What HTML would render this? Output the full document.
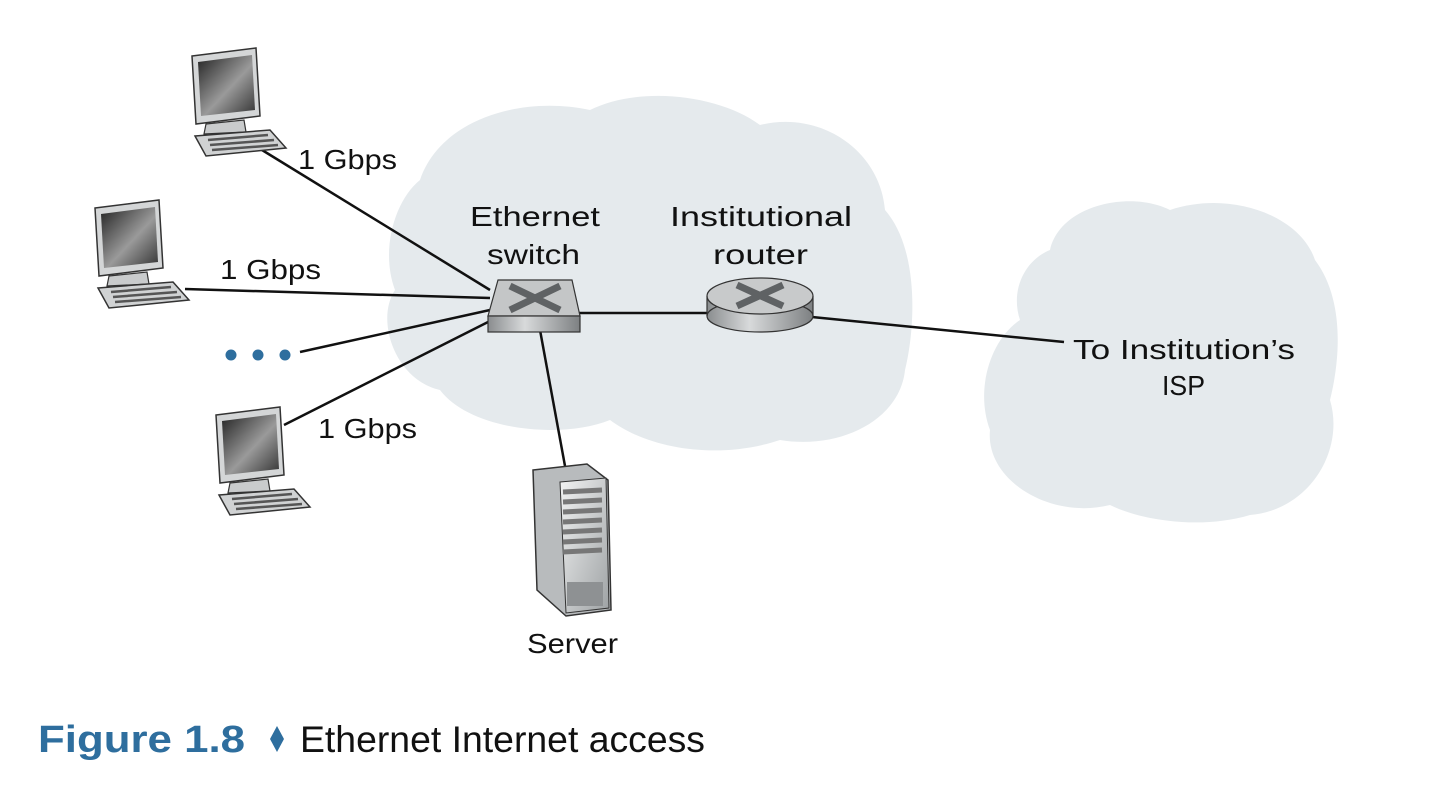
<!DOCTYPE html>
<html><head><meta charset="utf-8"><style>
html,body{margin:0;padding:0;background:#fff}
svg{display:block}
text{font-family:"Liberation Sans",sans-serif}
</style></head><body>
<svg width="1446" height="792" viewBox="0 0 1446 792" xmlns="http://www.w3.org/2000/svg">
<defs>
<linearGradient id="scr" x1="0" y1="0" x2="1" y2="1"><stop offset="0" stop-color="#222"/><stop offset=".55" stop-color="#9a9a9a"/><stop offset="1" stop-color="#333"/></linearGradient>
<linearGradient id="gr" x1="0" y1="0" x2="1" y2="0"><stop offset="0" stop-color="#8a8d8f"/><stop offset=".4" stop-color="#d8dadb"/><stop offset="1" stop-color="#7d8082"/></linearGradient>
<linearGradient id="sv" x1="0" y1="0" x2="1" y2="1"><stop offset="0" stop-color="#f2f3f3"/><stop offset="1" stop-color="#9ea2a4"/></linearGradient>
<g id="pc">
<path d="M2 8 L66 0 L70 68 L6 76 Z" fill="#d4d6d7" stroke="#333" stroke-width="1.5"/>
<path d="M8 14 L62 7 L65 62 L11 68 Z" fill="url(#scr)"/>
<path d="M16 76 L54 72 L56 84 L14 86 Z" fill="#c9cbcc" stroke="#333" stroke-width="1.2"/>
<path d="M5 88 L80 82 L96 100 L16 108 Z" fill="#d0d2d3" stroke="#333" stroke-width="1.5"/>
<path d="M18 92 L78 87 M20 97 L84 92 M22 102 L88 97" stroke="#555" stroke-width="2.5"/>
</g>
</defs>
<path d="M420 180 C440 120 520 95 590 110 C640 85 720 95 760 125 C820 110 880 150 885 210 C920 250 915 330 905 370 C900 420 840 450 780 440 C720 460 650 450 610 420 C560 440 470 430 440 390 C395 380 375 320 395 290 C380 250 395 200 420 180 Z" fill="#e5eaed"/>
<path d="M1050 250 C1060 205 1130 190 1170 210 C1230 190 1300 215 1315 260 C1345 300 1340 360 1330 400 C1345 450 1310 510 1250 515 C1200 530 1140 520 1110 505 C1050 520 985 480 990 430 C975 390 990 340 1020 320 C1010 290 1025 260 1050 250 Z" fill="#e5eaed"/>
<g stroke="#111" stroke-width="2.5" fill="none">
<line x1="262" y1="150" x2="490" y2="290"/>
<line x1="185" y1="289" x2="490" y2="298"/>
<line x1="300" y1="352" x2="490" y2="310"/>
<line x1="284" y1="425" x2="492" y2="320"/>
<line x1="578" y1="313" x2="710" y2="313"/>
<line x1="812" y1="317" x2="1064" y2="342"/>
<line x1="540" y1="330" x2="565" y2="466"/>
</g>
<use href="#pc" x="190" y="48"/>
<use href="#pc" x="93" y="200"/>
<use href="#pc" x="214" y="407"/>
<path d="M498 280 L572 280 L580 316 L488 316 Z" fill="#c4c6c7" stroke="#333" stroke-width="1.2"/>
<rect x="488" y="316" width="92" height="16" fill="url(#gr)" stroke="#333" stroke-width="1.2"/>
<path d="M510 286 L560 310 M560 286 L510 310" stroke="#5f6264" stroke-width="7"/>
<rect x="707" y="296" width="106" height="20" fill="url(#gr)"/>
<ellipse cx="760" cy="316" rx="53" ry="16" fill="url(#gr)" stroke="#333" stroke-width="1.2"/>
<ellipse cx="760" cy="296" rx="53" ry="18" fill="#c8cacb" stroke="#333" stroke-width="1.2"/>
<line x1="707" y1="296" x2="707" y2="316" stroke="#333" stroke-width="1.2"/>
<line x1="813" y1="296" x2="813" y2="316" stroke="#333" stroke-width="1.2"/>
<path d="M737 285 L783 306 M783 285 L737 306" stroke="#5f6264" stroke-width="7"/>
<path d="M533 470 L587 464 L608 480 L611 610 L566 616 L537 590 Z" fill="#b8bbbd" stroke="#333" stroke-width="1.5"/>
<path d="M560 482 L606 478 L609 608 L566 613 Z" fill="url(#sv)" stroke="#333" stroke-width="1"/>
<g stroke="#777" stroke-width="5">
<line x1="563" y1="492" x2="602" y2="490"/><line x1="563" y1="502" x2="602" y2="500"/>
<line x1="563" y1="512" x2="602" y2="510"/><line x1="563" y1="522" x2="602" y2="520"/>
<line x1="563" y1="532" x2="602" y2="530"/><line x1="563" y1="542" x2="602" y2="540"/>
<line x1="563" y1="552" x2="602" y2="550"/>
</g>
<rect x="567" y="582" width="36" height="24" fill="#8e9193"/>
<g font-size="28" fill="#111" lengthAdjust="spacingAndGlyphs">
<text x="298" y="169" textLength="99" lengthAdjust="spacingAndGlyphs">1 Gbps</text>
<text x="220" y="279" textLength="101" lengthAdjust="spacingAndGlyphs">1 Gbps</text>
<text x="318" y="438" textLength="99" lengthAdjust="spacingAndGlyphs">1 Gbps</text>
<text x="470" y="226" textLength="130" lengthAdjust="spacingAndGlyphs">Ethernet</text>
<text x="487" y="264" textLength="93" lengthAdjust="spacingAndGlyphs">switch</text>
<text x="670" y="226" textLength="182" lengthAdjust="spacingAndGlyphs">Institutional</text>
<text x="713" y="264" textLength="95" lengthAdjust="spacingAndGlyphs">router</text>
<text x="1073" y="359" textLength="222" lengthAdjust="spacingAndGlyphs">To Institution’s</text>
<text x="1162" y="395" textLength="43" lengthAdjust="spacingAndGlyphs">ISP</text>
<text x="527" y="653" textLength="91" lengthAdjust="spacingAndGlyphs">Server</text>
</g>
<circle cx="231" cy="355" r="5.5" fill="#2e6e9e"/>
<circle cx="258" cy="355" r="5.5" fill="#2e6e9e"/>
<circle cx="285" cy="355" r="5.5" fill="#2e6e9e"/>
<text x="38" y="752" font-size="38" font-weight="bold" fill="#2e6e9e" textLength="207" lengthAdjust="spacingAndGlyphs">Figure 1.8</text>
<path d="M277 726 L284 739 L277 752 L270 739 Z" fill="#2e6e9e"/>
<text x="300" y="752" font-size="37" fill="#111" textLength="405" lengthAdjust="spacingAndGlyphs">Ethernet Internet access</text>
</svg>
</body></html>
